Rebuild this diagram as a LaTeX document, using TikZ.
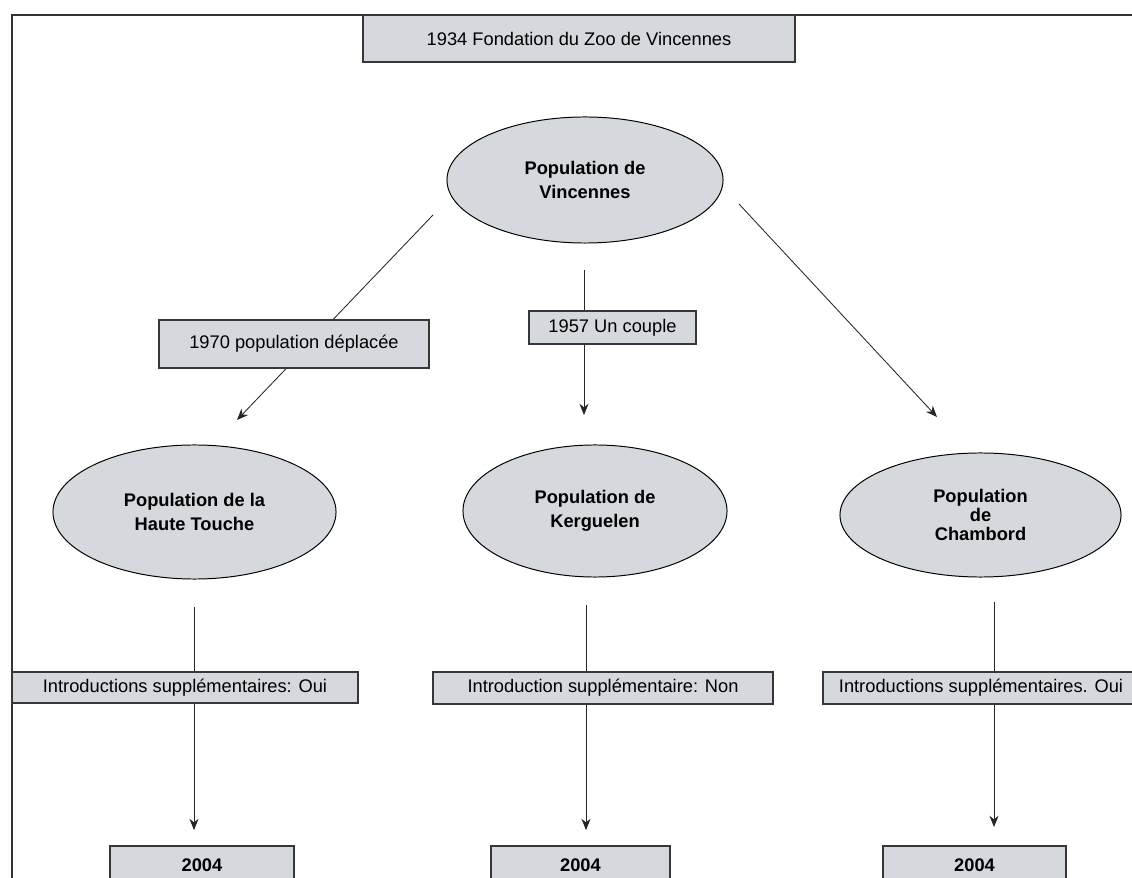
\documentclass[tikz,border=0pt]{standalone}
\usepackage{fontspec}
\setmainfont{Liberation Sans}
\usetikzlibrary{shapes.geometric,arrows.meta}
\definecolor{fondgris}{RGB}{213,217,221}
\definecolor{bordgris}{RGB}{55,55,55}

\begin{document}
\begin{tikzpicture}[x=0.025cm, y=-0.025cm,
    boite/.style={draw=bordgris, fill=fondgris, line width=0.9pt, inner sep=0pt,
        font=\fontsize{13}{15.6}\selectfont},
    pop/.style={ellipse, draw=black, fill=fondgris, line width=0.7pt, inner sep=0pt,
        align=center, font=\fontsize{13}{17}\selectfont\bfseries},
    an/.style={boite, font=\fontsize{13}{15.6}\selectfont\bfseries},
    fleche/.style={-{Stealth[length=8pt,width=6.5pt]}, line width=0.6pt, black!85},
    trait/.style={line width=0.6pt, black!85}]
    \useasboundingbox (0,0) rectangle (1132,878);

    \draw[line width=0.8pt, black!80] (12,878) -- (12,15) -- (1132,15);

    \coordinate (vinc-g) at (433,215);
    \coordinate (vinc-m) at (584,270);
    \coordinate (vinc-d) at (739,204);
    \coordinate (haute-h) at (237,420);
    \coordinate (kerg-h) at (584,415);
    \coordinate (chamb-h) at (937,417);
    \coordinate (haute-b) at (194,607);
    \coordinate (kerg-b) at (586,605);
    \coordinate (chamb-b) at (994,602);
    \coordinate (an1-h) at (194,830);
    \coordinate (an2-h) at (586,830);
    \coordinate (an3-h) at (994,827);

    \draw[fleche] (vinc-g) -- (haute-h);
    \draw[fleche] (vinc-m) -- (kerg-h);
    \draw[fleche] (vinc-d) -- (chamb-h);
    \draw[fleche] (haute-b) -- (an1-h);
    \draw[fleche] (kerg-b) -- (an2-h);
    \draw[fleche] (chamb-b) -- (an3-h);

    \node[boite, minimum width=10.8cm, minimum height=1.175cm] (fondation) at (579,38.5)
        {1934 Fondation du Zoo de Vincennes};

    \node[pop, minimum width=6.9cm, minimum height=3.15cm] (vinc) at (585,180)
        {Population de\\Vincennes};

    \node[boite, minimum width=6.75cm, minimum height=1.2cm] (deplace) at (294,344)
        {1970 population déplacée};
    \node[boite, minimum width=4.175cm, minimum height=0.825cm] (couple) at (612.5,327.5)
        {1957 Un couple};

    \node[pop, minimum width=7.075cm, minimum height=3.35cm] (haute) at (194.5,512)
        {Population de la\\Haute Touche};
    \node[pop, minimum width=6.6cm, minimum height=3.3cm] (kerg) at (595,511)
        {Population de\\Kerguelen};
    \node[pop, minimum width=7.025cm, minimum height=3.1cm,
        font=\fontsize{13}{13.5}\selectfont\bfseries] (chamb) at (980.5,515)
        {Population\\de\\Chambord};

    \node[boite, minimum width=8.65cm, minimum height=0.775cm] (intro1) at (185,687.5)
        {Introductions supplémentaires: Oui};
    \node[boite, minimum width=8.5cm, minimum height=0.8cm] (intro2) at (603,688)
        {Introduction supplémentaire: Non};
    \node[boite, minimum width=7.9cm, minimum height=0.8cm] (intro3) at (981,688)
        {Introductions supplémentaires. Oui};

    \node[an, minimum width=4.6cm, minimum height=0.95cm] (an1) at (202,865) {2004};
    \node[an, minimum width=4.475cm, minimum height=0.95cm] (an2) at (580.5,865) {2004};
    \node[an, minimum width=4.575cm, minimum height=0.95cm] (an3) at (974.5,865) {2004};
\end{tikzpicture}
\end{document}
